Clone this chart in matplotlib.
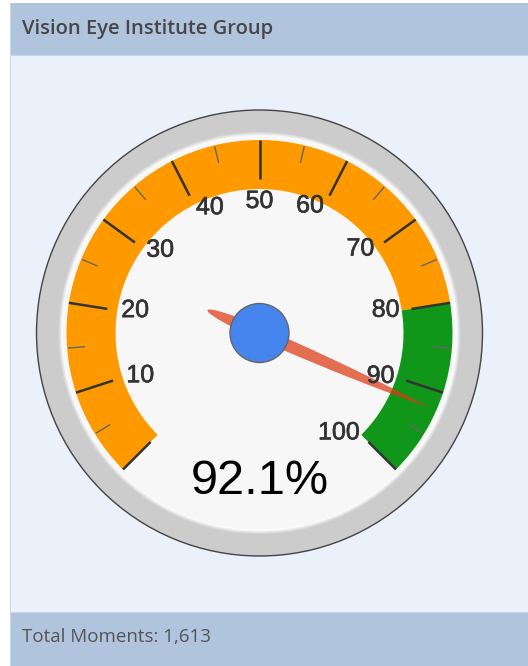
import numpy as np
import matplotlib.pyplot as plt
import matplotlib.patheffects as pe
from matplotlib.patches import Circle, Wedge, Rectangle, Polygon

# panel texts
title = "Vision Eye Institute Group"
footer = "Total Moments: 1,613"

# gauge data
value = 92.1
value_label = "92.1%"
band_ranges = [(0, 80), (80, 100)]
band_colors = ['#ff9900', '#109618']
major_ticks = [0, 10, 20, 30, 40, 50, 60, 70, 80, 90, 100]
major_labels = ['', '10', '20', '30', '40', '50', '60', '70', '80', '90', '100']
minor_ticks = [5, 15, 25, 35, 45, 55, 65, 75, 85, 95]
vmin, vmax = 0, 100

W, H = 528, 666
cx, cy = 259.5, H - 333  # gauge centre (y up)


def ang(v):
    # 270 degree sweep, 0 at lower left, 100 at lower right
    return 225 - 270 * (v - vmin) / (vmax - vmin)


def pol(r, v):
    a = np.radians(ang(v))
    return cx + r * np.cos(a), cy + r * np.sin(a)


fig = plt.figure(figsize=(W / 100, H / 100), dpi=100)
ax = fig.add_axes([0, 0, 1, 1])
ax.set_xlim(0, W)
ax.set_ylim(0, H)
ax.set_aspect('equal')
ax.axis('off')

# panel: header, body, footer
ax.add_patch(Rectangle((10, 0), W - 10, H - 3, fc='#c9d6e8', ec='none'))
ax.add_patch(Rectangle((11, H - 55), W - 11, 52, fc='#b0c4de', ec='none'))
ax.add_patch(Rectangle((11, 54), W - 11, H - 55 - 54 - 1, fc='#eaf1fb', ec='none'))
ax.add_patch(Rectangle((11, 0), W - 11, 53, fc='#b0c4de', ec='none'))
ax.text(22, H - 29, title, fontsize=14.5, family='Open Sans', weight='semibold',
        color='#474747', va='center', ha='left')
ax.text(22, 29, footer, fontsize=13.5, family='Open Sans', color='#555555',
        va='center', ha='left')

# gauge body
ax.add_patch(Circle((cx, cy), 223, fc='#cccccc', ec='#444444', lw=1))
for r, c in [(201, '#d8d8d8'), (199.8, '#e6e6e6'), (198.6, '#f4f4f4'),
             (197.5, '#fdfdfd'), (196.5, '#f7f7f7')]:
    ax.add_patch(Circle((cx, cy), r, fc=c, ec='none'))

for (lo, hi), c in zip(band_ranges, band_colors):
    ax.add_patch(Wedge((cx, cy), 193, ang(hi), ang(lo), width=49, fc=c, ec='none'))

for v in major_ticks:
    x0, y0 = pol(154, v)
    x1, y1 = pol(193, v)
    ax.plot([x0, x1], [y0, y1], color='#333333', lw=1.8, solid_capstyle='butt')
for v in minor_ticks:
    x0, y0 = pol(175, v)
    x1, y1 = pol(192, v)
    ax.plot([x0, x1], [y0, y1], color='#666666', lw=1, solid_capstyle='butt')

mid = (vmin + vmax) / 2
for v, lab in zip(major_ticks, major_labels):
    if v < mid:
        ha, r = 'left', 140
    elif v > mid:
        ha, r = 'right', 142
    else:
        ha, r = 'center', 131
    x, y = pol(r, v)
    ax.text(x, y + 1, lab, fontsize=18, family='Liberation Sans', color='#333333',
            ha=ha, va='center',
            path_effects=[pe.withStroke(linewidth=0.45, foreground='#333333')])

ax.text(cx, H - 481, value_label, fontsize=35, family='Liberation Sans',
        color='black', ha='center', va='center')

# needle
L1, L2, w = 186, 57, 6.2
t = np.linspace(0, 1, 60)
fx = L1 * t
fy = w * (1 - t ** 2.2)
s = np.linspace(0, 1, 40)
bx = -L2 * s
by = w * np.sqrt(1 - s ** 2)
px = np.concatenate([fx, fx[::-1][1:], bx[1:], bx[::-1][1:-1]])
py = np.concatenate([fy, -fy[::-1][1:], -by[1:], by[::-1][1:-1]])
a = np.radians(ang(value))
nx = cx + px * np.cos(a) - py * np.sin(a)
ny = cy + px * np.sin(a) + py * np.cos(a)
ax.add_patch(Polygon(np.column_stack([nx, ny]), closed=True, fc='#dc3912',
                     alpha=0.72, ec='none'))
ax.add_patch(Circle((cx, cy), 29.5, fc='#4684ee', ec='#666666', lw=1))

fig.savefig('out.png', dpi=100)
